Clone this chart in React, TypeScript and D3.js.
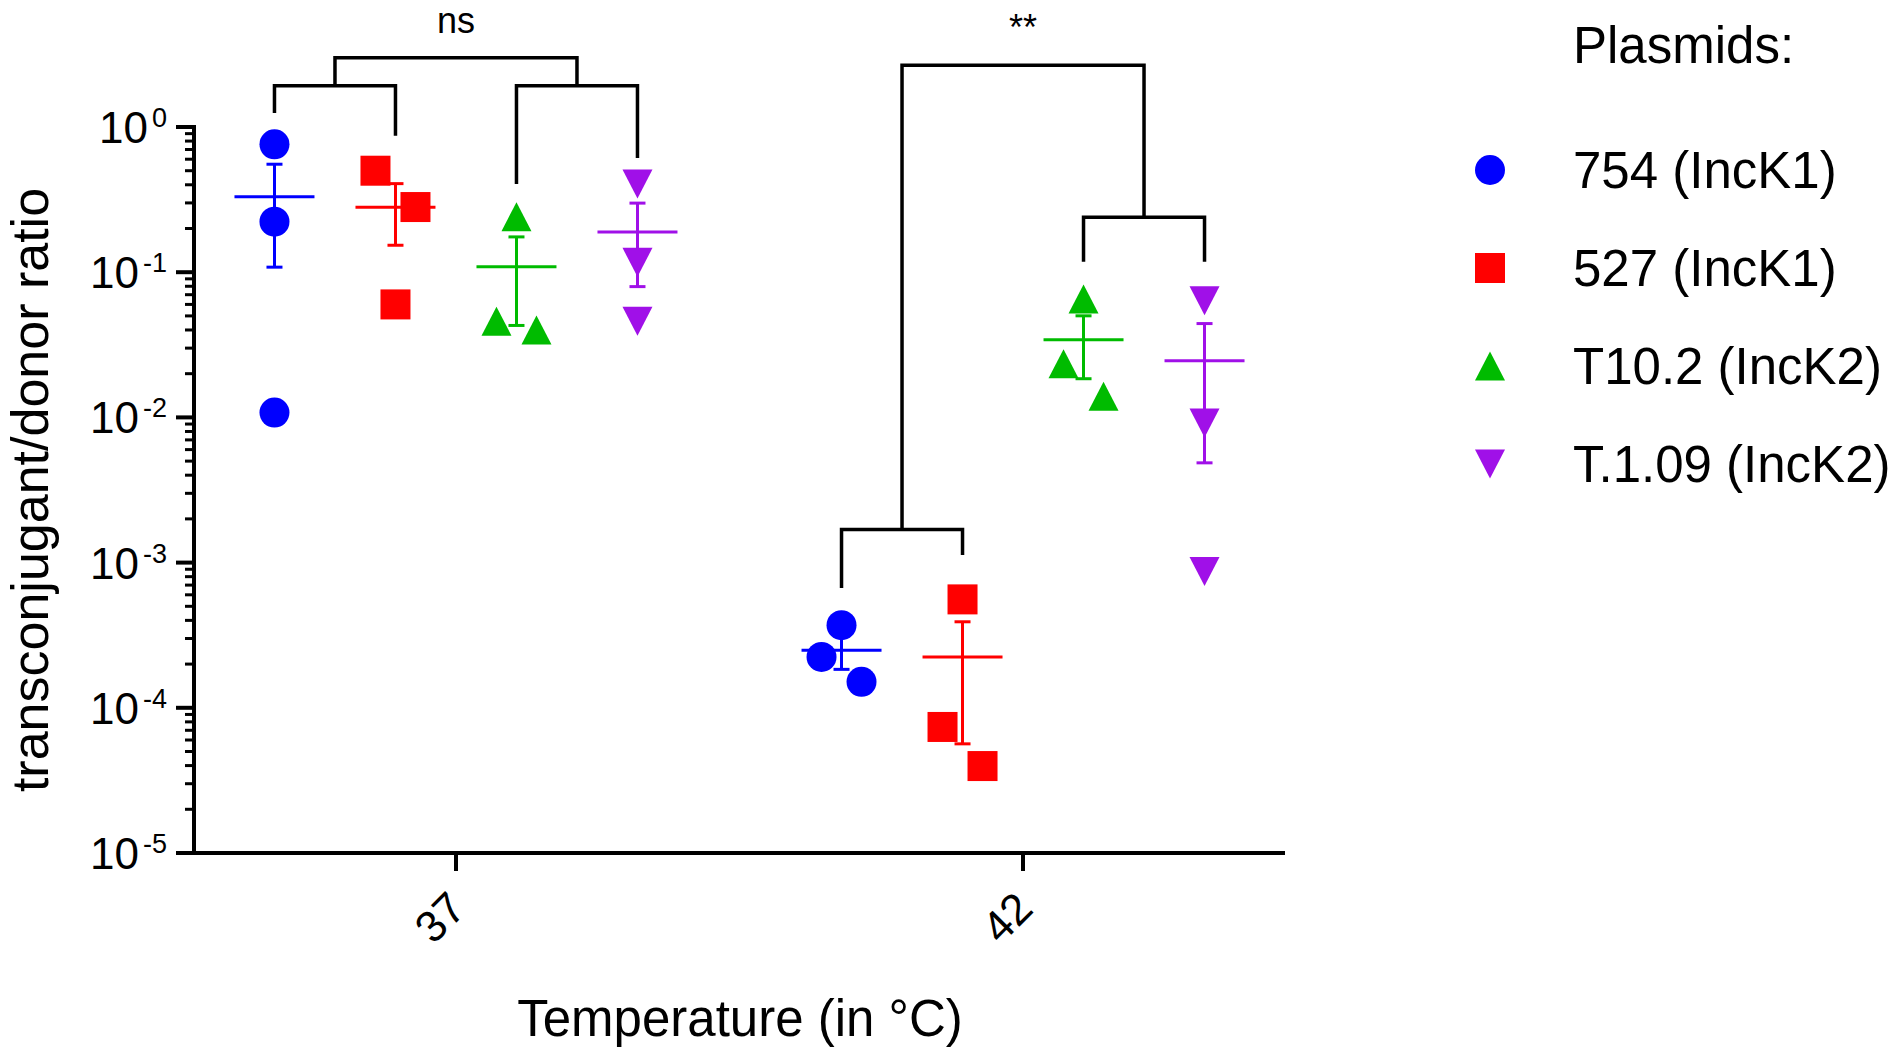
import * as d3 from 'd3';

const temperatures = ['37', '42'];
const plasmids = ['754 (IncK1)', '527 (IncK1)', 'T10.2 (IncK2)', 'T.1.09 (IncK2)'];
const colors = ['#0000ff', '#ff0000', '#00bb00', '#a010e8'];
const shapes = ['circle', 'square', 'triangle', 'triangleDown'];

// replicate ratios per plasmid: [37 °C, 42 °C]
const ratios754 = [[0.76, 0.223, 0.0108], [3.71e-4, 2.24e-4, 1.51e-4]];
const ratios527 = [[0.5, 0.281, 0.06], [5.58e-4, 7.38e-5, 3.97e-5]];
const ratiosT102 = [[0.241, 0.046, 0.04], [0.0654, 0.0234, 0.014]];
const ratiosT109 = [[0.405, 0.117, 0.046], [0.0637, 0.00915, 0.00087]];
const series = [ratios754, ratios527, ratiosT102, ratiosT109];

const yMajor = [1, 1e-1, 1e-2, 1e-3, 1e-4, 1e-5];
const yExponents = ['0', '-1', '-2', '-3', '-4', '-5'];

// pairwise brackets (bar + leg ends in data units)
const subBrackets = [
  { temp: '37', a: 0, b: 1, bar: 1.92, endA: 1.25, endB: 0.871 },
  { temp: '37', a: 2, b: 3, bar: 1.92, endA: 0.405, endB: 0.611 },
  { temp: '42', a: 0, b: 1, bar: 1.69e-3, endA: 6.69e-4, endB: 1.13e-3 },
  { temp: '42', a: 2, b: 3, bar: 0.239, endA: 0.118, endB: 0.118 },
];
// brackets joining two sub brackets
const topBrackets = [
  { left: 0, right: 1, bar: 3.0, label: 'ns' },
  { left: 2, right: 3, bar: 2.66, label: '**' },
];

const W = 1902;
const H = 1050;
const font = '"Liberation Sans", Arial, Helvetica, sans-serif';

const x = d3.scalePoint<string>().domain(temperatures).range([194, 1285]).padding(0.462);
const sub = d3.scaleBand<number>().domain([0, 1, 2, 3]).range([-242, 242]);
const y = d3.scaleLog().domain([1e-5, 1]).range([853, 127]);

const cx = (temp: string, s: number) => (x(temp) || 0) + (sub(s) || 0) + sub.bandwidth() / 2;

// spread replicates that sit too close together, GraphPad style
function jitter(vals: number[]) {
  const idx = vals.map((_, i) => i).sort((a, b) => y(vals[a]) - y(vals[b]));
  const out = new Array(vals.length).fill(0);
  let cluster: number[] = [];
  const flush = () => {
    const n = cluster.length;
    const pattern: number[] = [];
    if (n % 2 === 1) pattern.push(0);
    for (let k = 1; pattern.length < n; k++) pattern.push(-k, k);
    cluster.forEach((id, j) => (out[id] = pattern[j] * 20));
    cluster = [];
  };
  idx.forEach((id, j) => {
    if (j > 0 && y(vals[id]) - y(vals[idx[j - 1]]) > 45) flush();
    cluster.push(id);
  });
  flush();
  return out;
}

function Marker({ shape, px, py, color }: { shape: string; px: number; py: number; color: string }) {
  if (shape === 'circle') return <circle cx={px} cy={py} r={15} fill={color} />;
  if (shape === 'square') return <rect x={px - 15} y={py - 15} width={30} height={30} fill={color} />;
  const d = shape === 'triangle'
    ? `M${px},${py - 14.5}L${px + 15},${py + 14.5}L${px - 15},${py + 14.5}Z`
    : `M${px},${py + 14.5}L${px + 15},${py - 14.5}L${px - 15},${py - 14.5}Z`;
  return <path d={d} fill={color} />;
}

export default function App() {
  const minorTicks = y.ticks().filter((t) => Math.abs(Math.log10(t) - Math.round(Math.log10(t))) > 1e-6);

  const groups: JSX.Element[] = [];
  temperatures.forEach((temp, ti) => {
    series.forEach((ser, si) => {
      const vals = ser[ti];
      const m = d3.mean(vals) as number;
      const sem = (d3.deviation(vals) as number) / Math.sqrt(vals.length);
      const c = cx(temp, si);
      const offs = jitter(vals);
      groups.push(
        <g key={`${temp}-${si}`}>
          {vals.map((v, i) => (
            <Marker key={i} shape={shapes[si]} px={c + offs[i]} py={y(v)} color={colors[si]} />
          ))}
          <g stroke={colors[si]} strokeWidth={3}>
            <line x1={c - 40} x2={c + 40} y1={y(m)} y2={y(m)} />
            <line x1={c} x2={c} y1={y(m + sem)} y2={y(Math.max(m - sem, 1e-9))} />
            <line x1={c - 8} x2={c + 8} y1={y(m + sem)} y2={y(m + sem)} />
            <line x1={c - 8} x2={c + 8} y1={y(m - sem)} y2={y(m - sem)} />
          </g>
        </g>
      );
    });
  });

  const subMid = (b: typeof subBrackets[number]) => (cx(b.temp, b.a) + cx(b.temp, b.b)) / 2;

  return (
    <div style={{ position: 'absolute', left: 0, top: 0 }}>
      <svg width={W} height={H} style={{ display: 'block', background: '#fff' }} fontFamily={font}>
        {groups}

        {/* brackets */}
        <g stroke="#000" strokeWidth={3.5} fill="none">
          {subBrackets.map((b, i) => {
            const xa = cx(b.temp, b.a);
            const xb = cx(b.temp, b.b);
            return (
              <path key={i} d={`M${xa},${y(b.endA)}V${y(b.bar)}H${xb}V${y(b.endB)}`} />
            );
          })}
          {topBrackets.map((t, i) => {
            const l = subBrackets[t.left];
            const r = subBrackets[t.right];
            return (
              <path key={i} d={`M${subMid(l)},${y(l.bar)}V${y(t.bar)}H${subMid(r)}V${y(r.bar)}`} />
            );
          })}
        </g>
        {topBrackets.map((t, i) => {
          const mid = (subMid(subBrackets[t.left]) + subMid(subBrackets[t.right])) / 2;
          return (
            <text key={i} x={mid} y={y(t.bar) - 25} textAnchor="middle" fontSize={36}>
              {t.label}
            </text>
          );
        })}

        {/* y axis */}
        <g stroke="#000">
          <line x1={194} x2={194} y1={y(1) - 2} y2={y(1e-5)} strokeWidth={4} />
          {yMajor.map((t) => (
            <line key={t} x1={176} x2={194} y1={y(t)} y2={y(t)} strokeWidth={4} />
          ))}
          {minorTicks.map((t) => (
            <line key={t} x1={185} x2={194} y1={y(t)} y2={y(t)} strokeWidth={3} />
          ))}
        </g>
        {yMajor.map((t, i) => (
          <text key={t} x={167} y={y(t) + 16} textAnchor="end" fontSize={44}>
            10
            <tspan dx={4} dy={-16} fontSize={27}>
              {yExponents[i]}
            </tspan>
          </text>
        ))}

        {/* x axis */}
        <g stroke="#000" strokeWidth={4}>
          <line x1={192} x2={1285} y1={853} y2={853} />
          {temperatures.map((t) => (
            <line key={t} x1={x(t)} x2={x(t)} y1={853} y2={871} />
          ))}
        </g>
        {temperatures.map((t) => (
          <text
            key={t}
            transform={`translate(${(x(t) || 0) + 12},${911}) rotate(-45)`}
            textAnchor="end"
            fontSize={44}
          >
            {t}
          </text>
        ))}

        <text x={740} y={1036} textAnchor="middle" fontSize={51}>
          Temperature (in °C)
        </text>
        <text transform="translate(48,490) rotate(-90)" textAnchor="middle" fontSize={52}>
          transconjugant/donor ratio
        </text>

        {/* legend */}
        <text x={1573} y={63} fontSize={51}>
          Plasmids:
        </text>
        {plasmids.map((p, i) => {
          const ry = 170 + i * 98;
          return (
            <g key={p}>
              <Marker shape={shapes[i]} px={1490} py={ry} color={colors[i]} />
              <text x={1573} y={ry + 18} fontSize={51}>
                {p}
              </text>
            </g>
          );
        })}
      </svg>
    </div>
  );
}
